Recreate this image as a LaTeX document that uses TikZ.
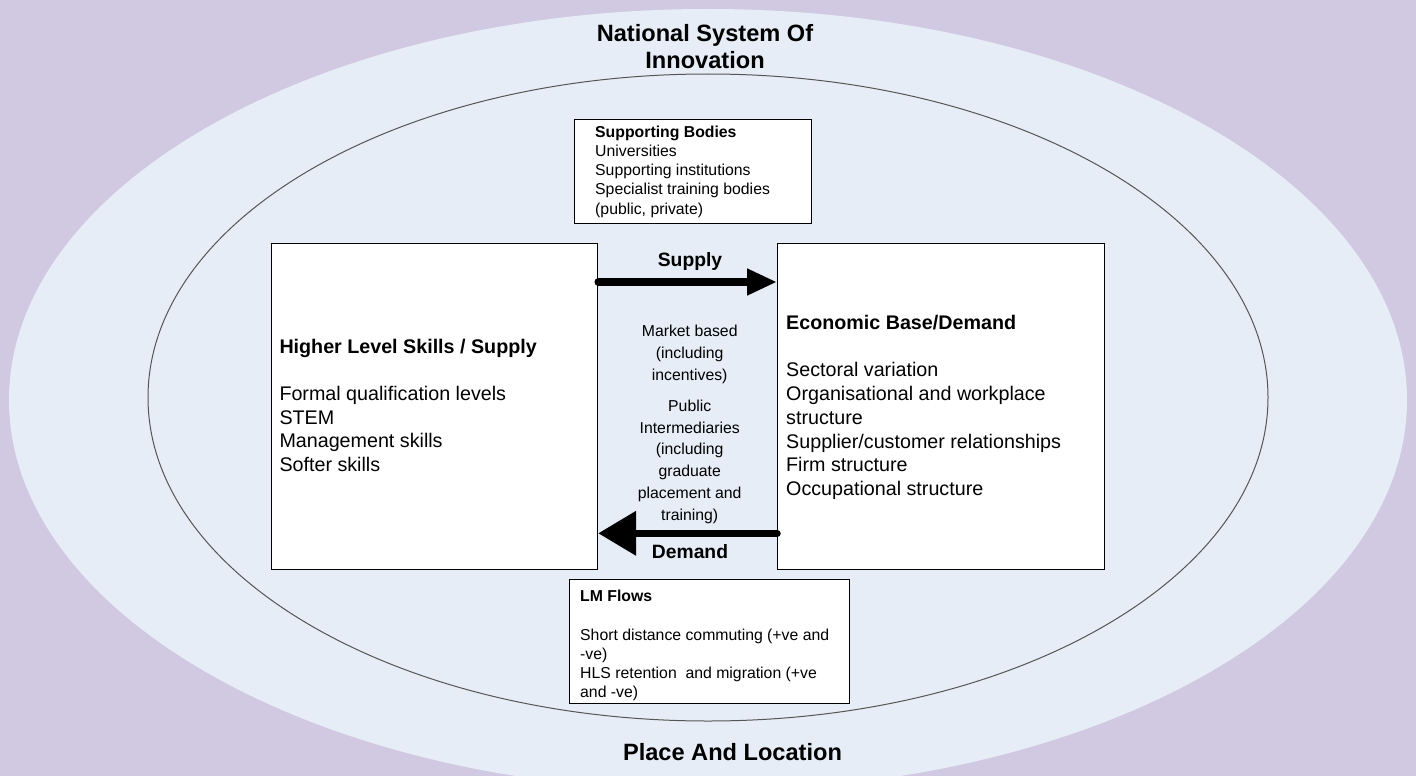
\documentclass[tikz,border=0pt]{standalone}
\usepackage{fontspec}
\setmainfont{Liberation Sans}
\usetikzlibrary{arrows.meta,calc}
\definecolor{bgpurple}{HTML}{D1C9E2}
\definecolor{ellfill}{HTML}{E7EDF6}
\definecolor{ellline}{HTML}{555555}
\begin{document}
\begin{tikzpicture}[x=1pt,y=-1pt,
  box/.style={draw=black,line width=1.2pt,fill=white,inner sep=0pt,anchor=north west},
  bigtxt/.style={font=\fontsize{19.7}{23.8}\selectfont,align=left,anchor=base west,inner sep=0pt},
  smalltxt/.style={font=\fontsize{15.8}{19.2}\selectfont,align=left,anchor=base west,inner sep=0pt},
  midtxt/.style={font=\fontsize{15.8}{21.7}\selectfont,align=center,anchor=base,inner sep=0pt},
  flowlbl/.style={font=\bfseries\fontsize{19.3}{23}\selectfont,anchor=base,inner sep=0pt},
  flow/.style={line width=7.5pt,line cap=round},
  titletxt/.style={font=\bfseries\fontsize{23.6}{28}\selectfont,align=center,anchor=base,inner sep=0pt}]
\useasboundingbox (0,0) rectangle (1416,776);
\fill[bgpurple] (0,0) rectangle (1416,776);
\fill[ellfill] (708,400) ellipse [x radius=699, y radius=391];
\draw[ellline,line width=1pt] (708,397.5) ellipse [x radius=560, y radius=323.5];

% boxes
\node[box,minimum width=326pt,minimum height=326pt] (L) at (271,243) {};
\node[box,minimum width=327pt,minimum height=326pt] (R) at (777,243) {};
\node[box,minimum width=237pt,minimum height=104pt] (SB) at (574,119) {};
\node[box,minimum width=280pt,minimum height=124pt] (LM) at (569,579) {};

% texts (anchored at the baseline of their last line)
\node[titletxt] (nsi) at (705,69) {National System Of\\Innovation};
\node[titletxt] (pl) at (732.5,760) {Place And Location};

\node[bigtxt] (Ltxt) at (279.3,471.7) {\textbf{Higher Level Skills / Supply}\\[23.5pt]Formal qualification levels\\STEM\\Management skills\\Softer skills};
\node[bigtxt] (Rtxt) at (786,495.7) {\textbf{Economic Base/Demand}\\[23.5pt]Sectoral variation\\Organisational and workplace\\structure\\Supplier/customer relationships\\Firm structure\\Occupational structure};
\node[smalltxt] (SBtxt) at (595,214) {\textbf{Supporting Bodies}\\Universities\\Supporting institutions\\Specialist training bodies\\(public, private)};
\node[smalltxt] (LMtxt) at (580,697.7) {\textbf{LM Flows}\\[19.2pt]Short distance commuting (+ve and\\-ve)\\HLS retention\ \ and migration (+ve\\and -ve)};
\node[midtxt] (mkt) at (689.7,380) {Market based\\(including\\incentives)};
\node[midtxt] (pub) at (689.7,520) {Public\\Intermediaries\\(including\\graduate\\placement and\\training)};

\node[flowlbl] (suplbl) at (690,266) {Supply};
\node[flowlbl] (demlbl) at (690,558.3) {Demand};

% arrows
\draw[flow,-{Triangle[length=30pt,width=25pt]}] ($(L.north east)+(0,39)$) -- ($(R.north west)+(0,39)$);
\draw[flow,-{Triangle[length=38pt,width=43pt]}] ($(R.north west)+(0,290.3)$) -- ($(L.north east)+(0,290.3)$);
\end{tikzpicture}
\end{document}
